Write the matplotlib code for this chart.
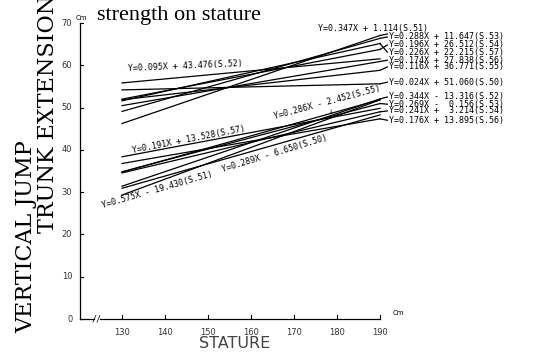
import numpy as np
import matplotlib.pyplot as plt

# 身長範囲 (stature, cm)
stature = [130, 190]

# VERTICAL JUMP 回帰直線
jump_slope = [0.347, 0.288, 0.196, 0.226, 0.174, 0.116, 0.024, 0.095]
jump_icpt = [1.114, 11.647, 26.512, 22.215, 27.838, 36.771, 51.060, 43.476]
jump_labels = ["Y=0.347X + 1.114(S.51)", "Y=0.288X + 11.647(S.53)",
               "Y=0.196X + 26.512(S.54)", "Y=0.226X + 22.215(S.57)",
               "Y=0.174X + 27.838(S.56)", "Y=0.116X + 36.771(S.55)",
               "Y=0.024X + 51.060(S.50)", "Y=0.095X + 43.476(S.52)"]

# TRUNK EXTENSION 回帰直線
trunk_slope = [0.344, 0.269, 0.241, 0.176, 0.286, 0.191, 0.375, 0.289]
trunk_icpt = [-13.316, -0.156, 3.214, 13.895, -2.452, 13.528, -19.430, -6.650]
trunk_labels = ["Y=0.344X - 13.316(S.52)", "Y=0.269X -  0.156(S.53)",
                "Y=0.241X +  3.214(S.54)", "Y=0.176X + 13.895(S.56)",
                "Y=0.286X - 2.452(S.55)", "Y=0.191X + 13.528(S.57)",
                "Y=0.575X - 19.430(S.51)", "Y=0.289X - 6.650(S.50)"]

xticks = [130, 140, 150, 160, 170, 180, 190]
yticks = [0, 10, 20, 30, 40, 50, 60, 70]

mono = 'DejaVu Sans Mono'
fs = 6.0

fig = plt.figure(figsize=(5.45, 3.52), dpi=100)
ax = fig.add_axes([80/545, 1-319/352, 1-80/545, (319-23)/352])
x0 = 130 - 42/4.3
ax.set_xlim(x0, 130 + (545-122)/4.3)
ax.set_ylim(0, 70)
ax.axis('off')

# 軸
ax.plot([x0, 123.6], [0, 0], color='k', lw=0.9, clip_on=False)
ax.plot([124.8, 190], [0, 0], color='k', lw=0.9, clip_on=False)
ax.plot([x0, x0], [0, 70], color='k', lw=0.9, clip_on=False)
ax.text(124.2, 0, '//', fontsize=6, family=mono, ha='center', va='center')
for t in xticks:
    ax.plot([t, t], [0, 1.0], color='k', lw=0.8)
    ax.text(t, -2.2, str(t), fontsize=6, ha='center', va='top', color='#333333')
for t in yticks:
    ax.plot([x0, x0 + 0.7], [t, t], color='k', lw=0.8, clip_on=False)
    ax.text(x0 - 1.8, t, str(t), fontsize=6, ha='right', va='center', color='#333333')
fig.text(76/545, 1-21/352, 'Cm', fontsize=5, ha='left', va='bottom')
fig.text(393/545, 1-316/352, 'Cm', fontsize=5, ha='left', va='bottom')

xs = np.array(stature, dtype=float)

# 右側ラベル位置 (y)
jump_label_y = [68.6, 66.7, 64.8, 63.1, 61.2, 59.6, 56.0]
trunk_label_y = [52.5, 50.8, 49.2, 47.0]

for i in range(len(jump_slope)):
    ys = jump_slope[i] * xs + jump_icpt[i]
    ax.plot(xs, ys, color='k', lw=0.9)
    if i == 0:
        ax.plot([190, 191.7], [ys[1], 67.4], color='k', lw=0.9)
        ax.text(175.6, jump_label_y[i], jump_labels[i], fontsize=fs, family=mono,
                ha='left', va='center')
    elif i < 7:
        ax.plot([190, 191.7], [ys[1], jump_label_y[i]], color='k', lw=0.9)
        ax.text(192, jump_label_y[i], jump_labels[i], fontsize=fs, family=mono,
                ha='left', va='center')
ax.text(131.4, 58.6, jump_labels[7], fontsize=fs, family=mono, rotation=2.5,
        rotation_mode='anchor', ha='left', va='baseline')

for i in range(len(trunk_slope)):
    ys = trunk_slope[i] * xs + trunk_icpt[i]
    ax.plot(xs, ys, color='k', lw=0.9)
    if i < 4:
        ax.plot([190, 191.7], [ys[1], trunk_label_y[i]], color='k', lw=0.9)
        ax.text(192, trunk_label_y[i], trunk_labels[i], fontsize=fs, family=mono,
                ha='left', va='center')
ax.text(165.6, 47.3, trunk_labels[4], fontsize=fs, family=mono, rotation=15,
        rotation_mode='anchor', ha='left', va='baseline')
ax.text(178.4, 49.2, '↓', fontsize=5, family=mono, ha='center', va='center')
ax.text(132.6, 39.2, trunk_labels[5], fontsize=fs, family=mono, rotation=11,
        rotation_mode='anchor', ha='left', va='baseline')
ax.text(125.6, 26.2, trunk_labels[6], fontsize=fs, family=mono, rotation=16,
        rotation_mode='anchor', ha='left', va='baseline')
ax.text(153.5, 34.8, trunk_labels[7], fontsize=fs, family=mono, rotation=17,
        rotation_mode='anchor', ha='left', va='baseline')

# タイトル・軸ラベル
fig.text(97/545, 1-20/352, 'strength on stature', fontsize=16, family='Liberation Serif',
         ha='left', va='baseline')
fig.text(26/545, 1-333/352, 'VERTICAL JUMP', fontsize=16, family='DejaVu Serif',
         rotation=90, ha='center', va='bottom')
fig.text(48/545, 1-233/352, 'TRUNK EXTENSION', fontsize=16, family='DejaVu Serif',
         rotation=90, ha='center', va='bottom')
fig.text(235/545, 1-343/352, 'STATURE', fontsize=11.5, ha='center', va='center',
         color='#444444')

plt.savefig('out.png', dpi=100)
